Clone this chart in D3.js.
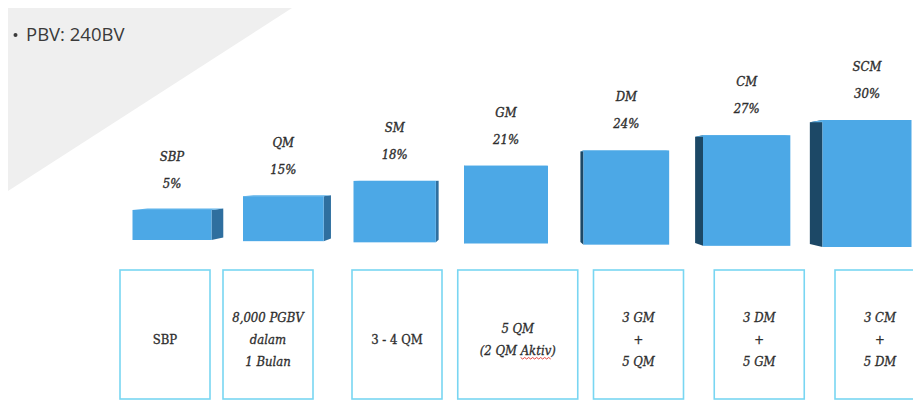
<!DOCTYPE html>
<html>
<head>
<meta charset="utf-8">
<script src="https://cdn.jsdelivr.net/npm/d3@7"></script>
<style>
  html, body { margin: 0; padding: 0; background: #fff; }
  svg { display: block; }
</style>
</head>
<body>
<div id="chart"></div>
<script>
// Tier names, bonus percentage and the qualification text for each tier
const tiers = ['SBP', 'QM', 'SM', 'GM', 'DM', 'CM', 'SCM'];
const bonusPct = [5, 15, 18, 21, 24, 27, 30];
const requirements = [
  ['SBP'],
  ['8,000 PGBV', 'dalam', '1 Bulan'],
  ['3 - 4 QM'],
  ['5 QM', '(2 QM Aktiv)'],
  ['3 GM', '+', '5 QM'],
  ['3 DM', '+', '5 GM'],
  ['3 CM', '+', '5 DM']
];
const headline = 'PBV: 240BV';

class TierChart {

  constructor(_config) {
    this.config = {
      parentElement: _config.parentElement,
      containerWidth: 913,
      containerHeight: 401,
      vanish: { x: 506, y: 175 },
      depth: 0.04,
      boxTop: 270,
      boxBottom: 400
    };
    this.initVis();
  }

  initVis() {
    let vis = this;
    const idx = d3.range(tiers.length);

    // bars sit in a slight perspective, so centres spread out to the right
    vis.xCenter = d3.scaleLinear().domain([0, 3, 6]).range([172, 506, 867]);
    vis.barWidth = d3.scaleLinear().domain([0, 6]).range([79, 89]);
    vis.baseline = d3.scaleLinear().domain([0, 6]).range([240, 247]);
    // the first tier is drawn taller than its share, the rest grow linearly
    vis.heightScale = d3.scaleLinear().domain([5, 15, 30]).range([30, 45, 127]);

    // requirement boxes
    vis.boxCenter = d3.scaleLinear().domain([0, 1, 2, 6]).range([165, 268, 397, 880]);

    vis.svg = d3.select(vis.config.parentElement).append('svg')
      .attr('width', vis.config.containerWidth)
      .attr('height', vis.config.containerHeight);

    vis.bars = idx.map(i => {
      const cx = vis.xCenter(i);
      const w = vis.barWidth(i);
      const yB = vis.baseline(i);
      return {
        i: i,
        name: tiers[i],
        pct: bonusPct[i],
        x0: cx - w / 2,
        x1: cx + w / 2,
        cx: cx,
        yB: yB,
        yT: yB - vis.heightScale(bonusPct[i])
      };
    });

    vis.renderVis();
  }

  back(p) {
    const v = this.config.vanish, s = this.config.depth;
    return [p[0] + s * (v.x - p[0]), p[1] + s * (v.y - p[1])];
  }

  renderVis() {
    let vis = this;
    const line = d3.line();
    const slab = '"DejaVu Serif Condensed", "DejaVu Serif", serif';

    // grey corner triangle with the headline
    vis.svg.append('path')
      .attr('d', line([[8, 8], [292, 8], [8, 191]]) + 'Z')
      .attr('fill', '#efefef');

    const head = vis.svg.append('g')
      .attr('font-family', '"Open Sans", sans-serif')
      .attr('font-size', 18.5)
      .attr('fill', '#3a3a3a');
    head.append('circle').attr('cx', 15.5).attr('cy', 35).attr('r', 2);
    head.append('text').attr('x', 26).attr('y', 41).text(headline);

    // 3d-ish bars
    const barG = vis.svg.append('g').attr('class', 'bars');
    const bar = barG.selectAll('.bar')
      .data(vis.bars)
      .join('g')
      .attr('class', 'bar');

    bar.append('path')
      .attr('class', 'side')
      .attr('d', d => {
        const right = d.cx < vis.config.vanish.x;
        const x = right ? d.x1 : d.x0;
        const t = [x, d.yT], b = [x, d.yB];
        return line([t, vis.back(t), vis.back(b), b]) + 'Z';
      })
      .attr('fill', d => d.cx < vis.config.vanish.x ? '#2f6f9f' : '#1c4866');

    bar.append('path')
      .attr('class', 'top')
      .attr('d', d => {
        const a = [d.x0, d.yT], b = [d.x1, d.yT];
        return line([a, b, vis.back(b), vis.back(a)]) + 'Z';
      })
      .attr('fill', '#5cb2ea');

    bar.append('rect')
      .attr('class', 'front')
      .attr('x', d => d.x0)
      .attr('y', d => d.yT)
      .attr('width', d => d.x1 - d.x0)
      .attr('height', d => d.yB - d.yT)
      .attr('fill', '#4ca8e6');

    // tier name and bonus above each bar
    const lbl = bar.append('g')
      .attr('font-family', slab)
      .attr('font-style', 'italic')
      .attr('font-size', 13)
      .attr('fill', '#2e2e2e')
      .attr('stroke', '#2e2e2e')
      .attr('stroke-width', 0.35)
      .attr('text-anchor', 'middle');
    lbl.append('text')
      .attr('x', d => d.cx)
      .attr('y', d => d.yT - 49)
      .text(d => d.name);
    lbl.append('text')
      .attr('x', d => d.cx)
      .attr('y', d => d.yT - 22)
      .text(d => d.pct + '%');

    // requirement boxes
    const boxWidth = i => i === 3 ? 120 : 90;
    const upright = new Set([0, 2]);
    const lineGap = 22;
    const midY = 339;

    const box = vis.svg.selectAll('.req')
      .data(requirements)
      .join('g')
      .attr('class', 'req');

    box.append('rect')
      .attr('x', (d, i) => vis.boxCenter(i) - boxWidth(i) / 2)
      .attr('y', vis.config.boxTop)
      .attr('width', (d, i) => boxWidth(i))
      .attr('height', vis.config.boxBottom - vis.config.boxTop - 1)
      .attr('fill', 'none')
      .attr('stroke', '#79d6f2')
      .attr('stroke-width', 1.6);

    box.each(function (d, i) {
      const g = d3.select(this);
      const y0 = midY - (d.length - 1) * lineGap / 2;
      g.selectAll('text')
        .data(d)
        .join('text')
        .attr('x', vis.boxCenter(i))
        .attr('y', (t, k) => y0 + k * lineGap + 4.5)
        .attr('text-anchor', 'middle')
        .attr('font-family', slab)
        .attr('font-style', upright.has(i) ? 'normal' : 'italic')
        .attr('font-size', 13)
        .attr('fill', '#2e2e2e')
        .attr('stroke', '#2e2e2e')
        .attr('stroke-width', 0.3)
        .text(t => t);
    });

    // red spell-check squiggle under "Aktiv"
    box.selectAll('text').each(function (t) {
      const at = t.indexOf('Aktiv');
      if (at < 0) return;
      const node = this;
      const bb = node.getBBox();
      const start = bb.x + node.getSubStringLength(0, at);
      const len = node.getSubStringLength(at, 5);
      const y = +node.getAttribute('y') + 3;
      const pts = d3.range(0, Math.floor(len / 2) + 1).map(k => [start + k * 2, y + (k % 2 ? 1.5 : 0)]);
      d3.select(node.parentNode).append('path')
        .attr('d', line(pts))
        .attr('fill', 'none')
        .attr('stroke', '#e0302a')
        .attr('stroke-width', 0.9);
    });
  }
}

new TierChart({ parentElement: '#chart' });
</script>
</body>
</html>
